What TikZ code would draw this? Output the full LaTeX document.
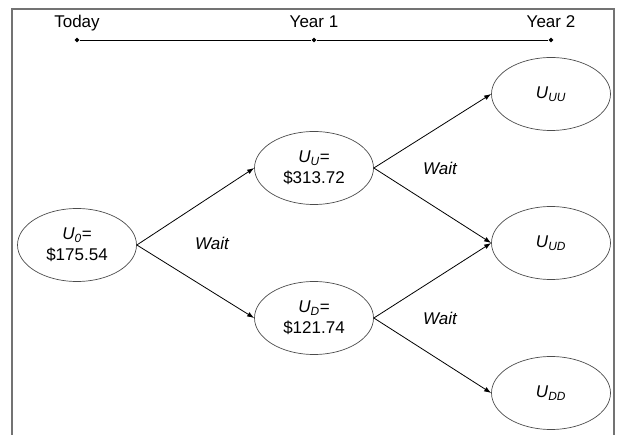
\documentclass[tikz,border=0pt]{standalone}
\usepackage{fontspec}
\setmainfont{Liberation Sans}
\usetikzlibrary{shapes.geometric,arrows.meta}

\newcommand{\uval}[1]{\textit{U}\textsubscript{\textit{#1}}}

\begin{document}
\begin{tikzpicture}
[
x=1pt, y=-1pt,
valuenode/.style={ellipse, draw=black!70, line width=0.7pt, minimum width=119pt, minimum height=73pt, inner sep=0pt, align=center, font=\fontsize{17}{21}\selectfont},
datenode/.style={anchor=base, inner sep=0pt, font=\fontsize{17}{19}\selectfont},
tickdot/.style={diamond, fill=black, inner sep=0pt, minimum size=5pt},
waitnode/.style={font=\fontsize{17}{19}\selectfont\itshape},
treearrow/.style={-{Latex[length=7pt,width=5pt]}, line width=0.8pt}
]
\useasboundingbox (0,0) rectangle (618,435);
% frame, open at the bottom
\draw[black!55, line width=1.2pt] (12,435) -- (12,9) -- (614,9) -- (614,435);

% time line
\node[tickdot] (t0) at (77,40)  {};
\node[tickdot] (t1) at (314,40) {};
\node[tickdot] (t2) at (551,40) {};
\node[datenode] (today) at (77,28)  {Today};
\node[datenode] (year1) at (314,28) {Year 1};
\node[datenode] (year2) at (551,28) {Year 2};
\draw[line width=0.8pt] (t0) -- (t1) -- (t2);

% tree
\node[valuenode] (u0)  at (77,245)  {\uval{0}=\\\$175.54};
\node[valuenode] (uu)  at (314,168) {\uval{U}=\\\$313.72};
\node[valuenode] (ud)  at (314,318) {\uval{D}=\\\$121.74};
\node[valuenode] (uuu) at (551,94)  {\uval{UU}};
\node[valuenode] (uud) at (551,243) {\uval{UD}};
\node[valuenode] (udd) at (551,393) {\uval{DD}};

\draw[treearrow] (u0.east) to (uu.west);
\draw[treearrow] (u0.east) to (ud.west);
\draw[treearrow] (uu.east) to (uuu.west);
\draw[treearrow] (uu.east) to (uud.west);
\draw[treearrow] (ud.east) to (uud.west);
\draw[treearrow] (ud.east) to (udd.west);

\node[waitnode] (wait0) at (212,243) {Wait};
\node[waitnode] (waitu) at (440,168) {Wait};
\node[waitnode] (waitd) at (440,318) {Wait};
\end{tikzpicture}
\end{document}
